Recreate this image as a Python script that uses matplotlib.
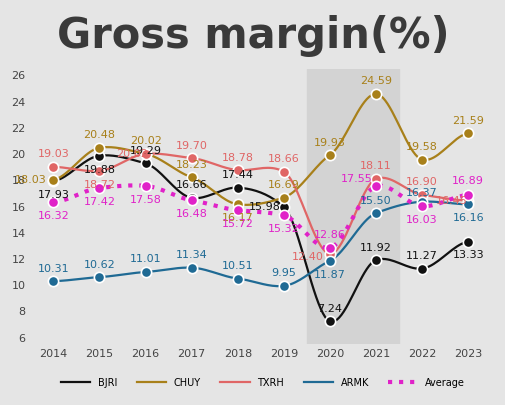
import numpy as np
import matplotlib
matplotlib.use("Agg")
import matplotlib.pyplot as plt

years = [2014, 2015, 2016, 2017, 2018, 2019, 2020, 2021, 2022, 2023]
BJRI = [17.93, 19.88, 19.29, 16.66, 17.44, 15.98, 7.24, 11.92, 11.27, 13.33]
CHUY = [18.03, 20.48, 20.02, 18.23, 16.17, 16.69, 19.93, 24.59, 19.58, 21.59]
TXRH = [19.03, 18.72, 20.02, 19.70, 18.78, 18.66, 12.40, 18.11, 16.90, 16.45]
ARMK = [10.31, 10.62, 11.01, 11.34, 10.51, 9.95, 11.87, 15.50, 16.37, 16.16]
AVG = [16.32, 17.42, 17.58, 16.48, 15.72, 15.32, 12.86, 17.55, 16.03, 16.89]

def smooth(x, y, n=20):
    x = np.asarray(x, float); y = np.asarray(y, float)
    xs, ys = [], []
    for i in range(len(x) - 1):
        p0 = y[max(i - 1, 0)]; p1 = y[i]; p2 = y[i + 1]; p3 = y[min(i + 2, len(y) - 1)]
        t = np.linspace(0, 1, n, endpoint=False)
        m1 = (p2 - p0) / 2 * 0.6; m2 = (p3 - p1) / 2 * 0.6
        h00 = 2*t**3 - 3*t**2 + 1; h10 = t**3 - 2*t**2 + t
        h01 = -2*t**3 + 3*t**2; h11 = t**3 - t**2
        ys.extend(h00*p1 + h10*m1 + h01*p2 + h11*m2)
        xs.extend(x[i] + t*(x[i+1]-x[i]))
    xs.append(x[-1]); ys.append(y[-1])
    return xs, ys

fig = plt.figure(figsize=(5.06, 4.05), dpi=100, facecolor="#e5e5e5")
ax = fig.add_axes([0.06, 0.15, 0.92, 0.68], facecolor="#e5e5e5")
fig.text(0.5, 0.91, "Gross margin(%)", ha="center", va="center", fontsize=30,
         fontweight="bold", color="#3a3a3a")

ax.axvspan(2019.5, 2021.5, color="#d3d3d3", zorder=0)

U, D = (0, 9), (0, -10)
series = [("BJRI", BJRI, "#111111", "-", [D, D, U, U, U, (-14, 0), U, U, U, D]),
          ("CHUY", CHUY, "#a8801a", "-", [(-16, 0), U, U, U, D, U, U, U, U, U]),
          ("TXRH", TXRH, "#e06666", "-", [U, D, (-10, 0), U, U, U, (-16, -2), U, U, (-12, 0)]),
          ("ARMK", ARMK, "#1f6a94", "-", [U, U, U, U, U, U, D, U, (0, 6), D]),
          ("Average", AVG, "#e022c8", ":", [D, D, D, D, D, D, (0, 9), (-14, 5), D, (0, 10)])]
for name, vals, col, ls, offs in series:
    xs, ys = smooth(years, vals)
    lw = 3 if ls == ":" else 1.6
    ax.plot(xs, ys, color=col, ls=ls, lw=lw, label=name, zorder=3)
    ax.scatter(years, vals, s=55, color=col, edgecolor="white", linewidth=1.2, zorder=4)
    for x, v, off in zip(years, vals, offs):
        ax.annotate(f"{v:.2f}", (x, v), xytext=off, textcoords="offset points",
                    ha="center", va="center", fontsize=8, color=col, zorder=5)

ax.set_xlim(2013.5, 2023.6)
ax.set_ylim(5.5, 26.5)
ax.set_xticks(years)
ax.set_yticks(range(6, 27, 2))
ax.tick_params(length=0, labelsize=8, colors="#444444")
for s in ax.spines.values():
    s.set_visible(False)
ax.legend(loc="upper center", bbox_to_anchor=(0.5, -0.09), ncol=5, frameon=False,
          fontsize=7, handlelength=3)
fig.savefig("out.png", dpi=100, facecolor=fig.get_facecolor())
